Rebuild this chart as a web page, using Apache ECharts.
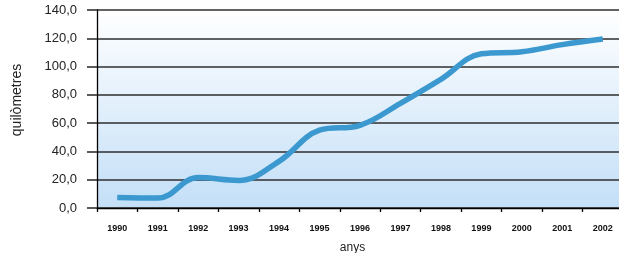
<!DOCTYPE html>
<html>
<head>
<meta charset="utf-8">
<script src="https://cdn.jsdelivr.net/npm/echarts@6/dist/echarts.min.js"></script>
<style>
html,body{margin:0;padding:0;background:#fff;}
#c{width:619px;height:253px;}
</style>
</head>
<body>
<div id="c"></div>
<script>
var years = ['1990','1991','1992','1993','1994','1995','1996','1997','1998','1999','2000','2001','2002'];
var km = [7.5, 7, 21.5, 19.5, 33, 55, 58.5, 74, 91, 109, 110.5, 115.5, 119.5];
var yTicks = [0, 20, 40, 60, 80, 100, 120, 140];

var chart = echarts.init(document.getElementById('c'), null, {renderer: 'canvas'});
chart.setOption({
  animation: false,
  grid: {
    left: 97, top: 10, width: 526, bottom: 45,
    outerBoundsMode: 'none',
    containLabel: false,
    show: true, borderWidth: 0,
    backgroundColor: new echarts.graphic.LinearGradient(0, 0, 0, 1, [
      {offset: 0, color: '#ffffff'},
      {offset: 1, color: '#c3dff7'}
    ])
  },
  xAxis: {
    type: 'category',
    data: years,
    boundaryGap: true,
    name: 'anys',
    nameLocation: 'middle',
    nameGap: 34,
    nameTextStyle: {fontFamily: 'Liberation Sans', fontSize: 12, color: '#222', padding: [0, 15, 0, 0]},
    axisLine: {lineStyle: {color: '#000', width: 1.3}},
    axisTick: {show: true, length: 4, inside: false, lineStyle: {color: '#000', width: 1.3}},
    axisLabel: {
      margin: 16, fontFamily: 'Liberation Sans', fontWeight: 'bold', fontSize: 9, color: '#111',
      interval: 0
    },
    splitLine: {show: false}
  },
  yAxis: {
    type: 'value',
    min: 0, max: 140, interval: 20,
    name: 'quilòmetres',
    nameLocation: 'middle',
    nameGap: 73,
    nameRotate: 90,
    nameTextStyle: {fontFamily: 'Liberation Sans', fontSize: 14, color: '#222', padding: [0, 0, 0, 18]},
    axisLine: {show: true, lineStyle: {color: '#000', width: 1.3}},
    axisTick: {show: true, length: 10, lineStyle: {color: '#333', width: 1.6}},
    axisLabel: {
      margin: 20, fontFamily: 'Liberation Sans', fontSize: 13, color: '#222',
      formatter: function (v) { return yTicks.indexOf(v) >= 0 ? v.toFixed(1).replace('.', ',') : ''; }
    },
    splitLine: {show: true, lineStyle: {color: '#2e2e2e', width: 1.6}}
  },
  series: [{
    type: 'line',
    data: km,
    smooth: 0.4,
    symbol: 'none',
    lineStyle: {color: '#3b99cf', width: 5.5, cap: 'butt'}
  }]
});
</script>
</body>
</html>
